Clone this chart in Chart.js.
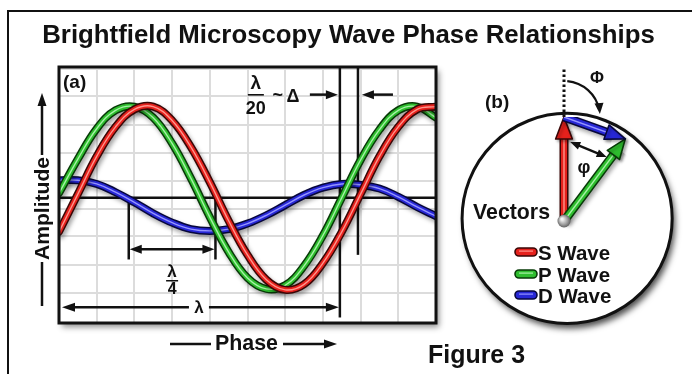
<!DOCTYPE html>
<html>
<head>
<meta charset="utf-8">
<title>Brightfield Microscopy Wave Phase Relationships</title>
<script src="https://cdn.jsdelivr.net/npm/chart.js@4.4.1/dist/chart.umd.min.js"></script>
<style>
  body { margin: 0; background: #fff; }
  #stage { position: relative; width: 692px; height: 374px; overflow: hidden; }
  #stage canvas { position: absolute; left: 0; top: 0; }
</style>
</head>
<body>
<div id="stage">
  <canvas id="waves" width="692" height="374"></canvas>
  <canvas id="vectors" width="692" height="374"></canvas>
</div>
<script>
const FONT = '"Liberation Sans", Arial, Helvetica, sans-serif';

// panel (a): x in grid columns, y in S-wave amplitudes
const phase = [0, 0.5, 1, 1.5, 2, 2.5, 3, 3.5, 4, 4.5, 5, 5.5, 6, 6.5, 7, 7.5, 8, 8.5, 9, 9.5, 10];
const sWave = [-0.37, 0.04, 0.45, 0.77, 0.96, 0.99, 0.84, 0.55, 0.17, -0.25, -0.62, -0.89, -1.0, -0.94, -0.71, -0.37, 0.04, 0.45, 0.77, 0.96, 0.99];
const pWave = [0.05, 0.42, 0.75, 0.95, 0.99, 0.87, 0.59, 0.21, -0.21, -0.59, -0.87, -0.99, -0.95, -0.74, -0.41, 0.0, 0.41, 0.74, 0.95, 0.99, 0.87];
const dWave = [0.19, 0.19, 0.15, 0.06, -0.05, -0.17, -0.27, -0.34, -0.36, -0.34, -0.28, -0.19, -0.08, 0.03, 0.11, 0.15, 0.14, 0.10, 0.01, -0.10, -0.20];
const gridLevels = [1.40, 1.10, 0.79, 0.49, 0.18, -0.12, -0.42, -0.73, -1.03];

// markers drawn in panel (a), axis units
const lambdaFrom = 0.08, lambdaTo = 7.45, deltaAt = 7.93;
const quarterFrom = 1.85, quarterTo = 4.15;

// panel (b): vectors in circle radii, origin at the grey ball
const vectorNames = ['S Wave', 'P Wave', 'D Wave'];
const vectorFrom = [[0, 0], [0, 0], [0, 1]];
const vectorTo = [[0, 1], [0.59, 0.79], [0.59, 0.79]];
const circle = { x: 0.03, y: 0.025, r: 1.01 };

const tubes = {
  'S Wave': { edge: '#3a0606', body: '#e5211c', shine: '#ff948c' },
  'P Wave': { edge: '#073a07', body: '#2ebd2e', shine: '#a6f2a6' },
  'D Wave': { edge: '#07073c', body: '#2727d6', shine: '#9494ff' }
};

function tube(name, points, extra, w) {
  const c = tubes[name];
  w = w || 8;
  const base = { label: name, data: points, pointRadius: 0, tension: 0.4, fill: false,
    borderCapStyle: 'round', borderJoinStyle: 'round' };
  return [
    Object.assign({}, base, { borderColor: c.edge, borderWidth: w, shadow: true }, extra),
    Object.assign({}, base, { borderColor: c.body, borderWidth: w - 3 }, extra),
    Object.assign({}, base, { borderColor: c.shine, borderWidth: 1.4, top: true }, extra)
  ];
}

function seg(ctx, x1, y1, x2, y2, w) {
  ctx.beginPath();
  ctx.moveTo(x1, y1);
  ctx.lineTo(x2, y2);
  ctx.lineWidth = w || 2.5;
  ctx.stroke();
}

function head(ctx, x, y, ang, len, half, fill, edge) {
  ctx.save();
  ctx.translate(x, y);
  ctx.rotate(ang);
  ctx.beginPath();
  ctx.moveTo(0, 0);
  ctx.lineTo(-len, -half);
  ctx.lineTo(-len, half);
  ctx.closePath();
  ctx.fillStyle = fill;
  ctx.fill();
  if (edge) {
    ctx.strokeStyle = edge;
    ctx.lineWidth = 1.6;
    ctx.lineJoin = 'round';
    ctx.stroke();
  }
  ctx.restore();
}

function text(ctx, str, x, y, o) {
  let size = o.size;
  if (o.width) {
    ctx.font = 'bold 100px ' + FONT;
    size = 100 * o.width / ctx.measureText(str).width;
  }
  ctx.font = 'bold ' + size.toFixed(2) + 'px ' + FONT;
  ctx.fillStyle = o.color || '#111';
  ctx.textAlign = o.align || 'left';
  ctx.textBaseline = o.baseline || 'alphabetic';
  ctx.fillText(str, x, y);
}

// shadows under the tubes, and shafts cut back under the vector arrow heads
const tubeLook = {
  id: 'tubeLook',
  beforeDatasetDraw(chart, args) {
    const ds = chart.data.datasets[args.index];
    const ctx = chart.ctx;
    ctx.save();
    if (ds.shadow) {
      ctx.shadowColor = 'rgba(0,0,0,0.35)';
      ctx.shadowBlur = 4;
      ctx.shadowOffsetX = 2;
      ctx.shadowOffsetY = 3;
    }
    if (ds.head) {
      const x = chart.scales.x, y = chart.scales.y;
      const p0 = ds.data[0], p1 = ds.data[1];
      const ax = x.getPixelForValue(p0.x), ay = y.getPixelForValue(p0.y);
      const bx = x.getPixelForValue(p1.x), by = y.getPixelForValue(p1.y);
      const L = Math.hypot(bx - ax, by - ay), ux = (bx - ax) / L, uy = (by - ay) / L;
      const cx = bx - ux * ds.head * 0.62, cy = by - uy * ds.head * 0.62;
      ctx.beginPath();
      ctx.moveTo(cx - uy * 999, cy + ux * 999);
      ctx.lineTo(cx + uy * 999, cy - ux * 999);
      ctx.lineTo(cx + uy * 999 - ux * 999, cy - ux * 999 - uy * 999);
      ctx.lineTo(cx - uy * 999 - ux * 999, cy + ux * 999 - uy * 999);
      ctx.closePath();
      ctx.clip();
    }
  },
  afterDatasetDraw(chart, args) {
    const ds = chart.data.datasets[args.index];
    const ctx = chart.ctx;
    ctx.restore();
    if (ds.head && ds.top) {
      const x = chart.scales.x, y = chart.scales.y;
      const p0 = ds.data[0], p1 = ds.data[1];
      const ax = x.getPixelForValue(p0.x), ay = y.getPixelForValue(p0.y);
      const bx = x.getPixelForValue(p1.x), by = y.getPixelForValue(p1.y);
      const c = tubes[ds.label];
      ctx.save();
      ctx.shadowColor = 'rgba(0,0,0,0.3)';
      ctx.shadowBlur = 3;
      ctx.shadowOffsetX = 2;
      ctx.shadowOffsetY = 2;
      head(ctx, bx, by, Math.atan2(by - ay, bx - ax), ds.head, ds.head * 0.38, c.body, c.edge);
      ctx.restore();
    }
  }
};

const panelA = {
  id: 'panelA',
  beforeDraw(chart) {
    const { ctx, chartArea: a } = chart;
    ctx.save();
    ctx.strokeStyle = '#111';
    ctx.beginPath();
    ctx.moveTo(8, 374);
    ctx.lineTo(8, 11);
    ctx.lineTo(692, 11);
    ctx.lineWidth = 2;
    ctx.stroke();
    ctx.shadowColor = 'rgba(0,0,0,0.45)';
    ctx.shadowBlur = 6;
    ctx.shadowOffsetX = 3;
    ctx.shadowOffsetY = 4;
    ctx.fillStyle = '#fff';
    ctx.fillRect(a.left, a.top, a.right - a.left, a.bottom - a.top);
    ctx.restore();
  },
  beforeDatasetsDraw(chart) {
    const { ctx, chartArea: a, scales: { x, y } } = chart;
    const X = v => x.getPixelForValue(v), Y = v => y.getPixelForValue(v);
    ctx.save();
    ctx.strokeStyle = '#111';
    ctx.fillStyle = '#111';
    seg(ctx, a.left, Y(0), a.right, Y(0), 2.5);
    // wavelength markers
    seg(ctx, X(lambdaTo), a.top, X(lambdaTo), Y(-1.3), 2.5);
    seg(ctx, X(deltaAt), a.top, X(deltaAt), Y(-0.62), 2.5);
    // quarter wavelength
    seg(ctx, X(quarterFrom), Y(0), X(quarterFrom), Y(-0.67), 2.5);
    seg(ctx, X(quarterTo), Y(0), X(quarterTo), Y(-0.67), 2.5);
    const qy = Y(-0.56);
    seg(ctx, X(quarterFrom) + 6, qy, X(quarterTo) - 6, qy, 2.5);
    head(ctx, X(quarterFrom) + 1, qy, Math.PI, 12, 4.5, '#111');
    head(ctx, X(quarterTo) - 1, qy, 0, 12, 4.5, '#111');
    // full wavelength arrow
    const ly = Y(-1.19), lx = (X(lambdaFrom) + X(lambdaTo)) / 2 - 2;
    seg(ctx, X(lambdaFrom) + 6, ly, lx - 10, ly, 2.5);
    seg(ctx, lx + 10, ly, X(lambdaTo) - 6, ly, 2.5);
    head(ctx, X(lambdaFrom), ly, Math.PI, 13, 4.5, '#111');
    head(ctx, X(lambdaTo) - 1, ly, 0, 13, 4.5, '#111');
    // delta arrows
    const dy = Y(1.12);
    seg(ctx, X(lambdaTo) - 30, dy, X(lambdaTo) - 8, dy, 2.5);
    head(ctx, X(lambdaTo) - 2, dy, 0, 12, 4.5, '#111');
    seg(ctx, X(deltaAt) + 35, dy, X(deltaAt) + 12, dy, 2.5);
    head(ctx, X(deltaAt) + 4, dy, Math.PI, 12, 4.5, '#111');
    ctx.restore();
  },
  afterDatasetsDraw(chart) {
    const { ctx, chartArea: a, scales: { x, y } } = chart;
    const X = v => x.getPixelForValue(v), Y = v => y.getPixelForValue(v);
    ctx.save();
    text(ctx, '(a)', a.left + 4, 88, { size: 19 });
    // lambda / 20 ~ delta
    const fx = X(lambdaTo) - 84;
    text(ctx, '\u03bb', fx, 89, { size: 19, align: 'center' });
    ctx.fillStyle = '#111';
    ctx.fillRect(fx - 8, 94, 16, 1.6);
    text(ctx, '20', fx, 114, { size: 18, align: 'center' });
    text(ctx, '~', fx + 22, 101, { size: 18, align: 'center' });
    text(ctx, '\u0394', fx + 37, 102, { size: 18, align: 'center' });
    // lambda / 4
    const qx = (X(quarterFrom) + X(quarterTo)) / 2;
    text(ctx, '\u03bb', qx, 277, { size: 17, align: 'center' });
    ctx.fillRect(qx - 6, 280, 12, 1.5);
    text(ctx, '4', qx, 294, { size: 16, align: 'center' });
    // lambda on the long arrow
    const lx = (X(lambdaFrom) + X(lambdaTo)) / 2 - 2;
    text(ctx, '\u03bb', lx, Y(-1.19) + 6, { size: 17, align: 'center' });
    // frame
    ctx.strokeStyle = '#111';
    ctx.lineWidth = 3;
    ctx.strokeRect(a.left, a.top, a.right - a.left, a.bottom - a.top);
    ctx.restore();
  },
  afterDraw(chart) {
    const ctx = chart.ctx;
    ctx.save();
    ctx.strokeStyle = '#111';
    ctx.fillStyle = '#111';
    text(ctx, 'Brightfield Microscopy Wave Phase Relationships', 348.5, 43, { width: 613, align: 'center' });
    // amplitude axis label
    seg(ctx, 42, 155, 42, 100, 2.5);
    head(ctx, 42, 93, -Math.PI / 2, 13, 4.5, '#111');
    seg(ctx, 42, 262, 42, 306, 2.5);
    ctx.save();
    ctx.translate(42, 208.5);
    ctx.rotate(-Math.PI / 2);
    text(ctx, 'Amplitude', 0, 1, { width: 103, align: 'center', baseline: 'middle' });
    ctx.restore();
    // phase axis label
    seg(ctx, 170, 344, 211, 344, 2.5);
    seg(ctx, 283, 344, 328, 344, 2.5);
    head(ctx, 337, 344, 0, 13, 4.5, '#111');
    text(ctx, 'Phase', 215, 350, { width: 63 });
    text(ctx, 'Figure 3', 428, 363, { width: 97 });
    ctx.restore();
  }
};

const panelB = {
  id: 'panelB',
  beforeDatasetsDraw(chart) {
    const { ctx, scales: { x, y } } = chart;
    const X = v => x.getPixelForValue(v), Y = v => y.getPixelForValue(v);
    const cx = X(circle.x), cy = Y(circle.y), r = X(circle.r) - X(0);
    ctx.save();
    ctx.beginPath();
    ctx.arc(cx, cy, r, 0, Math.PI * 2);
    ctx.shadowColor = 'rgba(0,0,0,0.7)';
    ctx.shadowBlur = 6;
    ctx.shadowOffsetX = 3;
    ctx.shadowOffsetY = 5;
    ctx.fillStyle = '#fff';
    ctx.fill();
    ctx.shadowColor = 'rgba(0,0,0,0)';
    ctx.strokeStyle = '#111';
    ctx.lineWidth = 3;
    ctx.stroke();
    // dotted reference line above the S vector
    const tx = X(vectorTo[0][0]), ty = Y(vectorTo[0][1]);
    ctx.setLineDash([2.5, 2.5]);
    seg(ctx, tx, ty, tx, ty - 49, 3);
    ctx.setLineDash([]);
    // Phi arc
    const rr = 36, a0 = -1.48, a1 = -0.2;
    ctx.beginPath();
    ctx.arc(tx, ty, rr, a0, a1);
    ctx.lineWidth = 2.2;
    ctx.stroke();
    const ex = tx + rr * Math.cos(a1 + 0.12), ey = ty + rr * Math.sin(a1 + 0.12);
    head(ctx, ex, ey, a1 + 0.12 + Math.PI / 2, 11, 4.5, '#111');
    ctx.restore();
  },
  afterDatasetsDraw(chart) {
    const { ctx, scales: { x, y } } = chart;
    const X = v => x.getPixelForValue(v), Y = v => y.getPixelForValue(v);
    ctx.save();
    // phi double arrow between S and P
    ctx.strokeStyle = '#111';
    const p1x = X(0.06), p1y = Y(0.76), p2x = X(0.41), p2y = Y(0.615);
    const ang = Math.atan2(p2y - p1y, p2x - p1x);
    seg(ctx, p1x + 5 * Math.cos(ang), p1y + 5 * Math.sin(ang), p2x - 5 * Math.cos(ang), p2y - 5 * Math.sin(ang), 2.2);
    head(ctx, p1x, p1y, ang + Math.PI, 10, 4, '#111');
    head(ctx, p2x, p2y, ang, 10, 4, '#111');
    // grey ball at the origin
    const ox = X(0), oy = Y(0);
    const g = ctx.createRadialGradient(ox - 2, oy - 2, 1, ox, oy, 7);
    g.addColorStop(0, '#f2f2f2');
    g.addColorStop(0.6, '#9a9a9a');
    g.addColorStop(1, '#555');
    ctx.beginPath();
    ctx.arc(ox, oy, 6.5, 0, Math.PI * 2);
    ctx.fillStyle = g;
    ctx.fill();
    // labels
    text(ctx, '(b)', 485, 108, { size: 19 });
    text(ctx, '\u03a6', 597, 83, { size: 17, align: 'center' });
    text(ctx, '\u03c6', 584, 173, { size: 18, align: 'center' });
    text(ctx, 'Vectors', 550, 219, { width: 77, align: 'right' });
    // legend
    const rows = [260, 282, 303];
    vectorNames.forEach((name, i) => {
      const c = tubes[name];
      const by = rows[i] - 8;
      ctx.beginPath();
      ctx.moveTo(519, by - 4);
      ctx.lineTo(533, by - 4);
      ctx.arc(533, by, 4, -Math.PI / 2, Math.PI / 2);
      ctx.lineTo(519, by + 4);
      ctx.arc(519, by, 4, Math.PI / 2, Math.PI * 1.5);
      ctx.closePath();
      ctx.fillStyle = c.body;
      ctx.fill();
      ctx.strokeStyle = c.edge;
      ctx.lineWidth = 1.6;
      ctx.stroke();
      ctx.fillStyle = c.shine;
      ctx.fillRect(519, by - 1.5, 14, 1.2);
      text(ctx, name, 538, rows[i], { size: 20.5 });
    });
    ctx.restore();
  }
};

const toXY = vals => phase.map((p, i) => ({ x: p, y: vals[i] }));

const hidden = { display: false, ticks: { display: false } };
const gridLook = { color: '#dcdcdc', lineWidth: 2, drawTicks: false };

// Chart.js paints the last dataset first, so the lists are reversed
const waveSets = [
  ...tube('D Wave', toXY(dWave)),
  ...tube('P Wave', toXY(pWave)),
  ...tube('S Wave', toXY(sWave))
].reverse();

const wavesChart = new Chart(document.getElementById('waves'), {
  type: 'line',
  data: { datasets: waveSets },
  options: {
    responsive: false,
    animation: false,
    events: [],
    layout: { padding: { left: 59, top: 67, right: 256, bottom: 51 } },
    plugins: { legend: { display: false }, tooltip: { enabled: false } },
    scales: {
      x: { type: 'linear', min: 0, max: 10, ticks: { display: false, stepSize: 1 }, grid: gridLook, border: { display: false } },
      y: {
        type: 'linear', min: -1.36, max: 1.42,
        afterBuildTicks: s => { s.ticks = gridLevels.map(v => ({ value: v })); },
        ticks: { display: false }, grid: gridLook, border: { display: false }
      }
    }
  },
  plugins: [panelA, tubeLook]
});

const vectorSets = [];
vectorNames.forEach((name, i) => {
  const pts = [{ x: vectorFrom[i][0], y: vectorFrom[i][1] }, { x: vectorTo[i][0], y: vectorTo[i][1] }];
  vectorSets.push(...tube(name, pts, { tension: 0, borderCapStyle: 'butt', head: i === 0 ? 22 : 20 }, 9));
});
vectorSets.reverse();

const vectorChart = new Chart(document.getElementById('vectors'), {
  type: 'line',
  data: { datasets: vectorSets },
  options: {
    responsive: false,
    animation: false,
    events: [],
    layout: { padding: { left: 460, top: 117, right: 24, bottom: 49 } },
    plugins: { legend: { display: false }, tooltip: { enabled: false } },
    scales: {
      x: Object.assign({ type: 'linear', min: -1, max: 1 }, hidden),
      y: Object.assign({ type: 'linear', min: -1, max: 1 }, hidden)
    }
  },
  plugins: [panelB, tubeLook]
});
</script>
</body>
</html>
